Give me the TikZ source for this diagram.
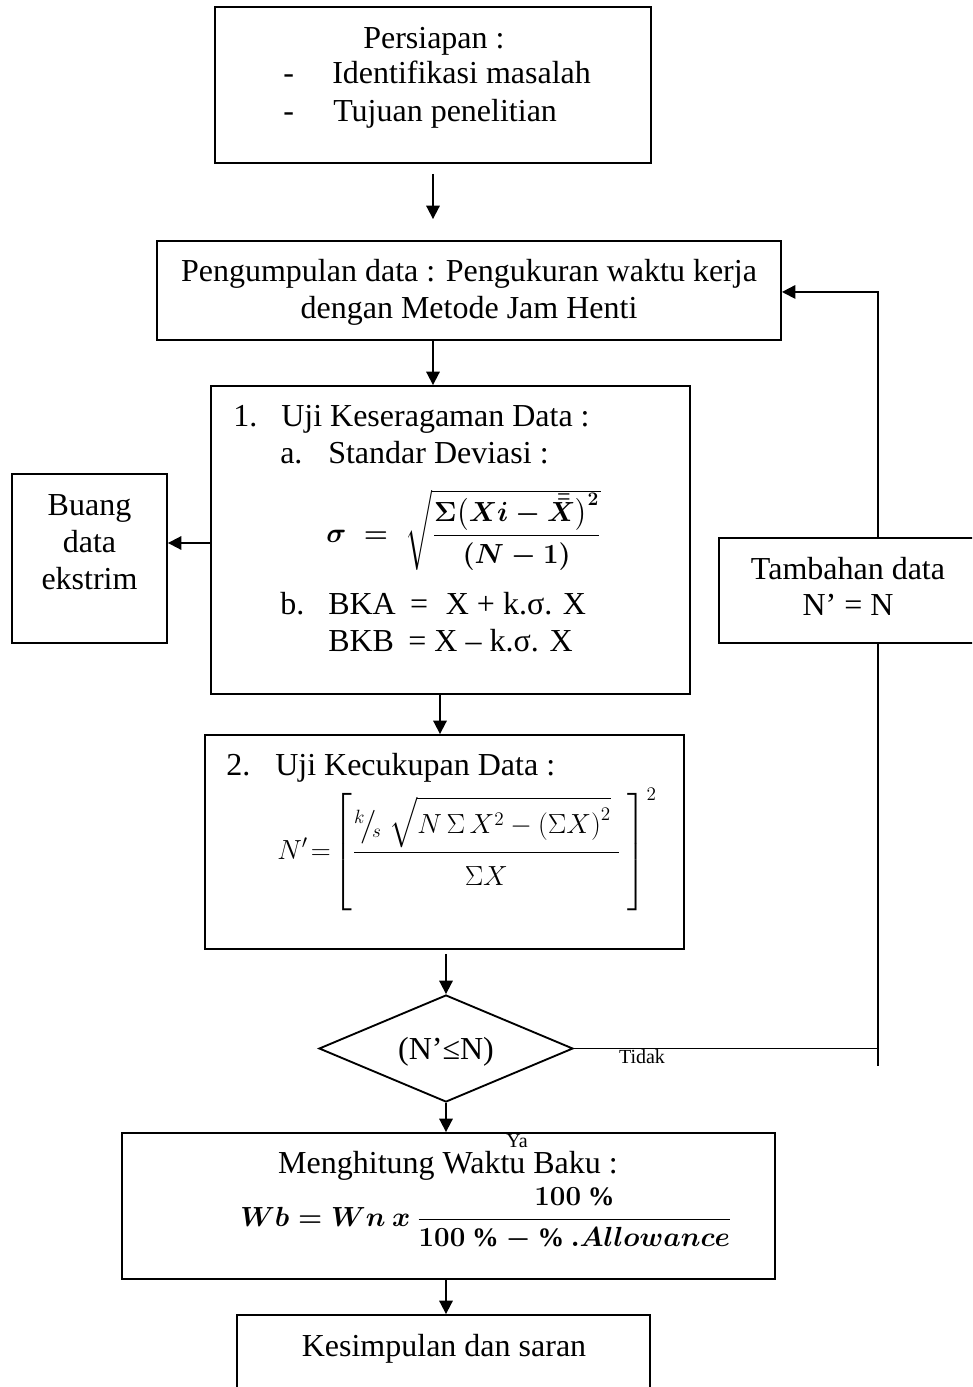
\documentclass[tikz,border=0pt]{standalone}
\usepackage{amsmath,amssymb}
\usepackage{fontspec}
\setmainfont{Liberation Serif}
\usetikzlibrary{shapes.geometric,arrows.meta}
\begin{document}
\begin{tikzpicture}[x=0.75pt,y=-0.75pt,
  box/.style={draw,line width=1.4pt,inner sep=0pt},
  txt/.style={inner sep=0pt,font=\fontsize{24}{27.75}\selectfont},
  ctxt/.style={txt,anchor=base},
  ltxt/.style={txt,anchor=base west},
  small/.style={inner sep=0pt,font=\fontsize{15}{17}\selectfont},
  ln/.style={line width=1.4pt},
  arr/.style={line width=1.4pt,-{Triangle[length=10pt,width=10pt]}}]
\useasboundingbox (0,0) rectangle (972,1387);
\clip (0,0) rectangle (972,1387);
% boxes
\node[box,minimum width=327pt,minimum height=117pt] (b1) at (433,85) {};
\node[box,minimum width=468pt,minimum height=74.25pt] (b2) at (469,290.5) {};
\node[box,minimum width=359.25pt,minimum height=231pt] (b3) at (450.5,540) {};
\node[box,minimum width=116.25pt,minimum height=126.75pt] (buang) at (89.5,558.5) {};
\node[box,minimum width=359.25pt,minimum height=160.5pt] (b4) at (444.5,842) {};
\node[box,shape=diamond,minimum width=190.5pt,minimum height=80.25pt] (d) at (446,1048.5) {};
\node[box,minimum width=199.5pt,minimum height=78.75pt] (tam) at (852,590.5) {};
\node[box,minimum width=489.75pt,minimum height=109.5pt] (b5) at (448.5,1206) {};
\node[box,minimum width=309.75pt,minimum height=71.25pt] (b6) at (443.5,1362.5) {};
% box 1 text
\node[ltxt] (t1a) at (363,49) {Persiapan :};
\node[ltxt] (t1b) at (283,84) {-};
\node[ltxt] (t1c) at (332,84) {Identifikasi masalah};
\node[ltxt] (t1d) at (283,122) {-};
\node[ltxt] (t1e) at (333,122) {Tujuan penelitian};
% box 2 text
\node[ctxt] (t2a) at (469,282) {Pengumpulan data : Pengukuran waktu kerja};
\node[ctxt] (t2b) at (469,319) {dengan Metode Jam Henti};
% box 3 text
\node[ltxt] (t3a) at (233,426) {1.};
\node[ltxt] (t3b) at (281,426) {Uji Keseragaman Data :};
\node[ltxt] (t3c) at (280,463) {a.};
\node[ltxt] (t3d) at (328,463) {Standar Deviasi :};
\node[inner sep=0pt,anchor=west,font=\fontsize{20}{24}\selectfont\boldmath] (sig) at (326,530)
  {$\sigma\;=\;\sqrt{\dfrac{\rule{0pt}{18pt}\Sigma\bigl(Xi-\bar{\bar{X}}\bigr)^2}{(N-1)}}$};
\node[ltxt] (t3e) at (280,614) {b.};
\node[ltxt] (t3f) at (328,614) {BKA\hspace{0.45em}=\hspace{0.55em}X + k.σ. X};
\node[ltxt] (t3g) at (328,651) {BKB\hspace{0.45em}= X – k.σ. X};
% buang text
\node[ctxt] (tb1) at (89.5,515) {Buang};
\node[ctxt] (tb2) at (89.5,552) {data};
\node[ctxt] (tb3) at (89.5,589) {ekstrim};
% box 4 text
\node[ltxt] (t4a) at (226,775) {2.};
\node[ltxt] (t4b) at (275,775) {Uji Kecukupan Data :};
\node[inner sep=0pt,anchor=base west,font=\fontsize{21}{24}\selectfont] (np) at (277,859)
  {$N'\!=\!\left[\rule[-40pt]{0pt}{89pt}\dfrac{{}^{k}\!\big/\!{}_{s}\;\sqrt{N\,\Sigma\, X^{2}-\left(\Sigma X\right)^{2}}\;}{\rule{0pt}{22pt}\Sigma X}\;\right]^{2}$};
% diamond text
\node[ctxt] (td) at (446,1059) {(N’≤N)};
\node[small] (tidak) at (642,1057) {Tidak};
\node[small] (ya) at (517,1141) {Ya};
% tambahan text
\node[ctxt] (tt1) at (848,579) {Tambahan data};
\node[ctxt] (tt2) at (848,615) {N’ = N};
% box 5 text
\node[ctxt] (t5a) at (448,1173) {Menghitung Waktu Baku :};
\node[inner sep=0pt,anchor=base west,font=\fontsize{20}{24}\selectfont\boldmath] (wb) at (240,1226)
  {$Wb = Wn\ x\ \dfrac{100\ \%}{\rule{0pt}{17pt}100\ \% - \%\ .Allowance}$};
% box 6 text
\node[ctxt] (t6) at (444,1356) {Kesimpulan dan saran};
% connectors
\coordinate (c4) at (440,0);
\coordinate (tj) at (878,1066);
\draw[arr,shorten <=7.5pt,shorten >=15.75pt] (b1.south) -- (b1.south |- b2.north);
\draw[arr] (b1.south |- b2.south) -- (b1.south |- b3.north);
\draw[arr] ([yshift=-2.25pt]b3.west) -- ([yshift=-2.25pt]b3.west -| buang.east);
\draw[arr] (b3.south -| c4) -- (b4.north -| c4);
\draw[arr,shorten <=3pt] (b4.south -| d.north) -- (d.north);
\draw[ln] (d.east) -- (d.east -| tj);
\draw[ln] (tam.south -| tj) -- (tj);
\draw[arr] (tam.north -| tj) |- ([yshift=-1.1pt]b2.east);
\draw[arr] (d.south) -- (d.south |- b5.north);
\draw[arr] (d.south |- b5.south) -- (d.south |- b6.north);
\end{tikzpicture}
\end{document}
